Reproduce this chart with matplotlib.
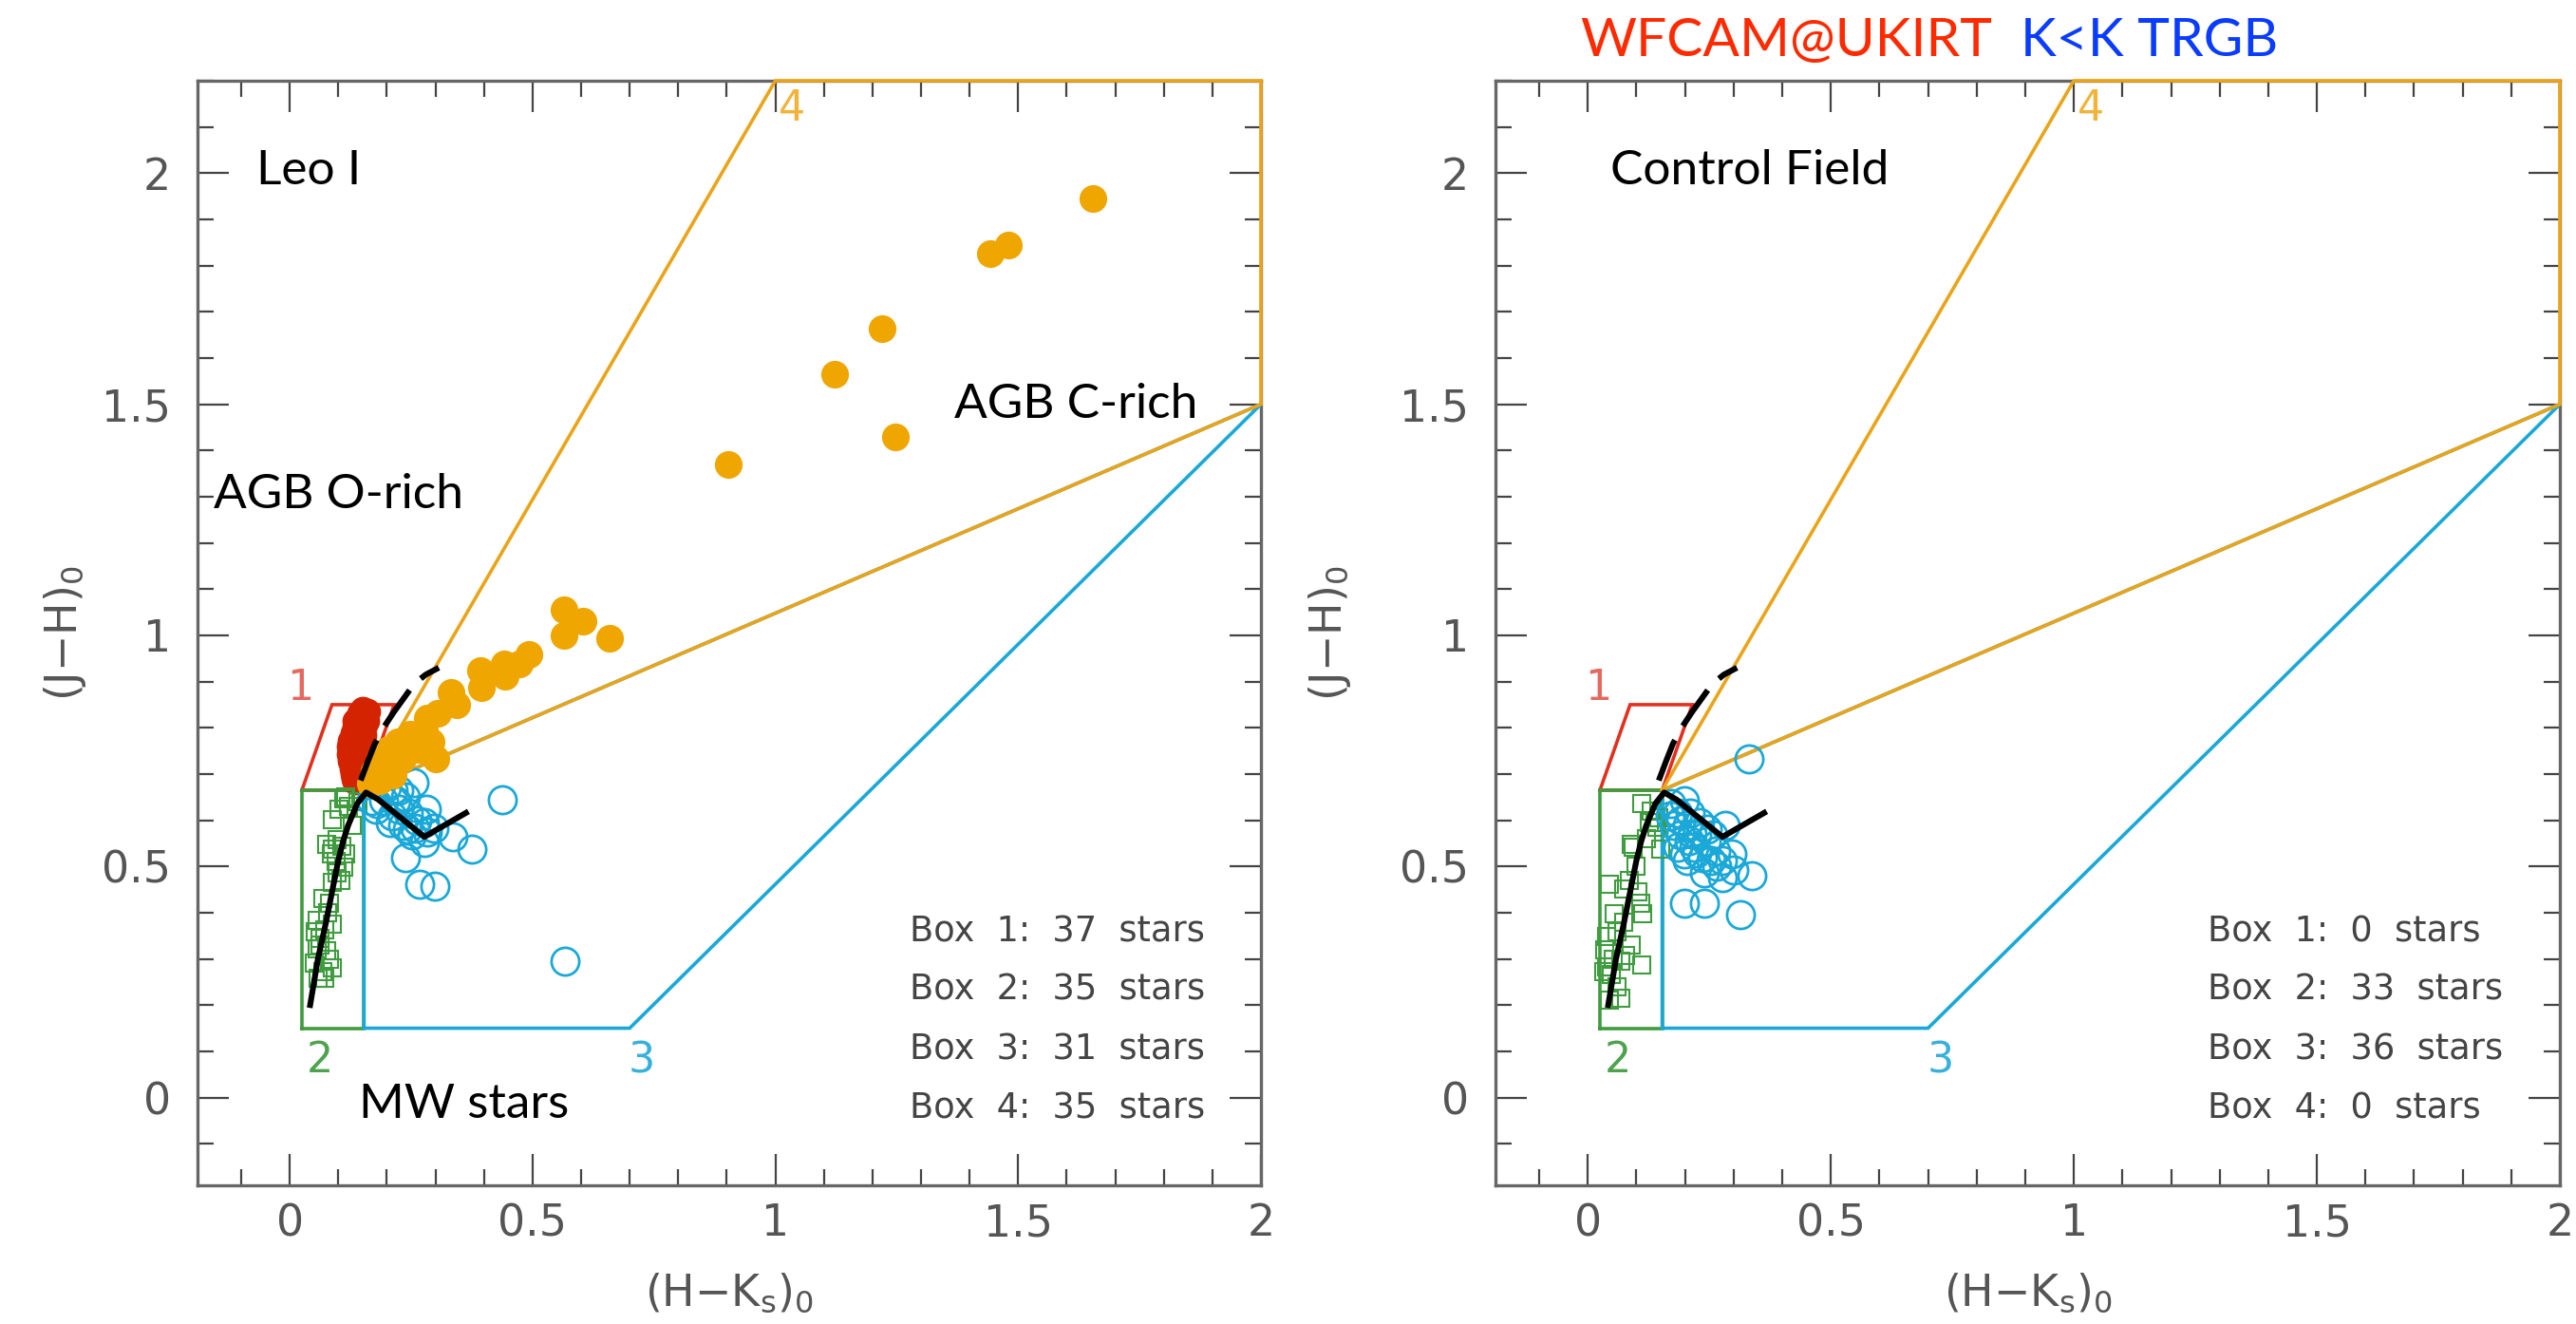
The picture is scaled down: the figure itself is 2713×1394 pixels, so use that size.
import matplotlib
matplotlib.use("Agg")
import matplotlib.pyplot as plt
from matplotlib.ticker import MultipleLocator

# ---------------- data ----------------
XLIM = (-0.19, 2.0)
YLIM = (-0.19, 2.2)

# selection boxes (H-K, J-H vertices)
box1_hk = [0.025, 0.087, 0.215, 0.153, 0.025]
box1_jh = [0.665, 0.850, 0.850, 0.665, 0.665]
box2_hk = [0.025, 0.153, 0.153, 0.025, 0.025]
box2_jh = [0.150, 0.150, 0.665, 0.665, 0.150]
box3_hk = [0.153, 0.153, 0.700, 2.000, 0.153]
box3_jh = [0.665, 0.150, 0.150, 1.500, 0.665]
box4_hk = [0.153, 1.000, 2.000, 2.000, 0.153]
box4_jh = [0.665, 2.200, 2.200, 1.500, 0.665]

# intrinsic sequences
dwarf_hk = [0.041, 0.058, 0.074, 0.088, 0.100, 0.110, 0.120, 0.139, 0.157, 0.182, 0.277, 0.368]
dwarf_jh = [0.194, 0.300, 0.376, 0.450, 0.513, 0.555, 0.588, 0.636, 0.660, 0.645, 0.564, 0.619]
giant_hk = [0.146, 0.160, 0.175, 0.193, 0.215, 0.239, 0.256, 0.280, 0.307]
giant_jh = [0.686, 0.725, 0.765, 0.800, 0.835, 0.870, 0.895, 0.915, 0.930]

# Leo I stars
leo_box1_hk = [0.145, 0.155, 0.160, 0.140, 0.150, 0.158, 0.135, 0.145, 0.155, 0.130,
               0.142, 0.152, 0.125, 0.135, 0.145, 0.122, 0.132, 0.142, 0.150, 0.123,
               0.133, 0.143, 0.125, 0.138, 0.148, 0.128, 0.138, 0.130, 0.140, 0.132,
               0.140, 0.135, 0.150, 0.135, 0.128, 0.140, 0.145]
leo_box1_jh = [0.832, 0.828, 0.835, 0.818, 0.822, 0.815, 0.803, 0.798, 0.806, 0.788,
               0.792, 0.785, 0.772, 0.768, 0.775, 0.760, 0.757, 0.763, 0.755, 0.742,
               0.738, 0.745, 0.728, 0.732, 0.725, 0.712, 0.708, 0.700, 0.697, 0.690,
               0.688, 0.683, 0.840, 0.815, 0.750, 0.720, 0.780]

leo_box2_hk = [0.111, 0.121, 0.102, 0.088, 0.128, 0.115, 0.098, 0.088, 0.108, 0.085,
               0.075, 0.115, 0.111, 0.098, 0.088, 0.069, 0.082, 0.056, 0.088, 0.053,
               0.072, 0.056, 0.075, 0.062, 0.088, 0.069, 0.059, 0.072, 0.081, 0.050,
               0.095, 0.105, 0.078, 0.063, 0.140]
leo_box2_jh = [0.647, 0.630, 0.623, 0.602, 0.588, 0.650, 0.558, 0.537, 0.544, 0.527,
               0.547, 0.527, 0.499, 0.486, 0.465, 0.431, 0.420, 0.383, 0.376, 0.359,
               0.362, 0.321, 0.317, 0.330, 0.280, 0.273, 0.259, 0.259, 0.300, 0.290,
               0.510, 0.470, 0.400, 0.345, 0.640]

leo_box3_hk = [0.256, 0.437, 0.281, 0.177, 0.212, 0.219, 0.245, 0.232, 0.258, 0.278,
               0.336, 0.376, 0.278, 0.239, 0.268, 0.298, 0.566, 0.193, 0.199, 0.225,
               0.251, 0.284, 0.180, 0.206, 0.297, 0.225, 0.239, 0.167, 0.210, 0.262,
               0.243]
leo_box3_jh = [0.681, 0.645, 0.623, 0.623, 0.664, 0.643, 0.616, 0.588, 0.582, 0.595,
               0.564, 0.537, 0.551, 0.520, 0.461, 0.458, 0.294, 0.643, 0.671, 0.623,
               0.568, 0.575, 0.636, 0.595, 0.582, 0.664, 0.650, 0.643, 0.610, 0.600,
               0.580]

leo_box4_hk = [1.654, 1.480, 1.443, 1.220, 1.123, 1.247, 0.903, 0.565, 0.604, 0.565,
               0.658, 0.493, 0.473, 0.444, 0.441, 0.393, 0.395, 0.333, 0.343, 0.304,
               0.284, 0.278, 0.248, 0.222, 0.291, 0.300, 0.265, 0.203, 0.186, 0.173,
               0.199, 0.232, 0.212, 0.186, 0.165]
leo_box4_jh = [1.945, 1.845, 1.825, 1.664, 1.566, 1.429, 1.370, 1.056, 1.031, 0.999,
               0.993, 0.959, 0.938, 0.911, 0.938, 0.923, 0.887, 0.877, 0.849, 0.832,
               0.822, 0.794, 0.787, 0.770, 0.770, 0.733, 0.753, 0.753, 0.733, 0.705,
               0.719, 0.733, 0.698, 0.685, 0.680]

# Control field stars
cf_box2_hk = [0.110, 0.146, 0.126, 0.143, 0.090, 0.149, 0.045, 0.074, 0.104, 0.055,
              0.113, 0.074, 0.038, 0.061, 0.078, 0.110, 0.038, 0.048, 0.068, 0.068,
              0.045, 0.094, 0.108, 0.035, 0.060, 0.085, 0.120, 0.100, 0.032, 0.052,
              0.090, 0.130, 0.139]
cf_box2_jh = [0.636, 0.606, 0.595, 0.585, 0.547, 0.537, 0.461, 0.451, 0.444, 0.397,
              0.397, 0.379, 0.348, 0.359, 0.307, 0.287, 0.283, 0.266, 0.294, 0.215,
              0.211, 0.541, 0.420, 0.320, 0.240, 0.470, 0.560, 0.500, 0.273, 0.300,
              0.330, 0.620, 0.595]

cf_box3_hk = [0.332, 0.198, 0.283, 0.296, 0.338, 0.198, 0.240, 0.314, 0.276, 0.240,
              0.204, 0.301, 0.185, 0.204, 0.224, 0.243, 0.191, 0.218, 0.263, 0.177,
              0.230, 0.254, 0.276, 0.198, 0.236, 0.185, 0.211, 0.172, 0.257, 0.215,
              0.190, 0.225, 0.265, 0.170, 0.245, 0.208]
cf_box3_jh = [0.733, 0.643, 0.588, 0.527, 0.479, 0.420, 0.420, 0.395, 0.475, 0.486,
              0.513, 0.492, 0.616, 0.588, 0.568, 0.554, 0.568, 0.541, 0.534, 0.588,
              0.595, 0.513, 0.513, 0.527, 0.520, 0.541, 0.616, 0.636, 0.568, 0.570,
              0.600, 0.530, 0.500, 0.610, 0.580, 0.555]

leo_counts = [37, 35, 31, 35]
cf_counts = [0, 33, 36, 0]

X_TICKS = [0, 0.5, 1, 1.5, 2]
X_TICKLABELS = ["0", "0.5", "1", "1.5", "2"]
Y_TICKS = [0, 0.5, 1, 1.5, 2]
Y_TICKLABELS = ["0", "0.5", "1", "1.5", "2"]

# ---------------- style ----------------
RED_LINE = "#e2301f"
RED_DOT = "#d42300"
GREEN = "#3f9c3f"
BLUE = "#1aa8d8"
ORANGE = "#efa600"
ORANGE_LINE = "#eaa41a"
AXCOL = "#666666"
TXTFONT = ["Lato", "DejaVu Sans"]

W, H = 2713, 1394
fig = plt.figure(figsize=(W / 100, H / 100), dpi=100)
axL = fig.add_axes([208 / W, 1 - 1248 / H, (1328 - 208) / W, (1248 - 85) / H])
axR = fig.add_axes([1575 / W, 1 - 1248 / H, (2696 - 1575) / W, (1248 - 85) / H])


def setup(ax, ylab_x):
    ax.set_xlim(*XLIM)
    ax.set_ylim(*YLIM)
    ax.set_xticks(X_TICKS)
    ax.set_xticklabels(X_TICKLABELS)
    ax.set_yticks(Y_TICKS)
    ax.set_yticklabels(Y_TICKLABELS)
    ax.xaxis.set_minor_locator(MultipleLocator(0.1))
    ax.yaxis.set_minor_locator(MultipleLocator(0.1))
    ax.tick_params(which="both", direction="in", top=True, right=True,
                   color="#444444", labelcolor="#555555", labelsize=33)
    ax.tick_params(which="major", length=24, width=1.6)
    ax.tick_params(which="minor", length=12, width=1.6)
    ax.tick_params(axis="x", pad=13)
    ax.tick_params(axis="y", pad=20)
    for s in ax.spines.values():
        s.set_color(AXCOL)
        s.set_linewidth(2.4)
    ax.set_xlabel(r"(H$-$K$_\mathregular{s}$)$_\mathregular{0}$", fontsize=33, color="#555555")
    ax.set_ylabel(r"(J$-$H)$_\mathregular{0}$", fontsize=33, color="#555555")
    ax.xaxis.set_label_coords(0.5, -0.078)
    ax.yaxis.set_label_coords(ylab_x, 0.5)


def boxes(ax):
    kw = dict(lw=2.6, clip_on=False, zorder=3, solid_joinstyle="miter")
    ax.plot(box1_hk, box1_jh, color=RED_LINE, **kw)
    ax.plot(box2_hk, box2_jh, color=GREEN, **kw)
    ax.plot(box3_hk, box3_jh, color=BLUE, **kw)
    ax.plot(box4_hk, box4_jh, color=ORANGE_LINE, **kw)
    lab = dict(fontsize=32, ha="center", va="center", zorder=6)
    ax.text(0.022, 0.885, "1", color="#e46a60", **lab)
    ax.text(0.062, 0.080, "2", color="#4ea24e", **lab)
    ax.text(0.725, 0.080, "3", color="#38b0dc", **lab)
    ax.text(1.034, 2.140, "4", color="#f2b33a", **lab)


def seqs(ax):
    ax.plot(dwarf_hk, dwarf_jh, color="black", lw=4.4, zorder=8, solid_capstyle="butt")
    ax.plot(giant_hk, giant_jh, color="black", lw=4.4, zorder=8,
            dashes=(7.5, 2.8), dash_capstyle="butt")


def counts(ax, vals):
    ys = [0.338, 0.211, 0.082, -0.045]
    for i, (v, y) in enumerate(zip(vals, ys)):
        ax.text(1.276, y, f"Box  {i + 1}:  {v}  stars", fontsize=26.5, color="#444444",
                ha="left", va="baseline", zorder=6)


setup(axL, -0.103)
setup(axR, -0.134)

# ---- left panel: Leo I ----
boxes(axL)
axL.plot(leo_box1_hk, leo_box1_jh, "o", ms=20, color=RED_DOT, mec="none", zorder=4)
axL.plot(leo_box2_hk, leo_box2_jh, "s", ms=13, mfc="none", mec=GREEN, mew=1.5, zorder=4)
axL.plot(leo_box3_hk, leo_box3_jh, "o", ms=21, mfc="none", mec=BLUE, mew=2.0, zorder=4)
axL.plot(leo_box4_hk, leo_box4_jh, "o", ms=21, color=ORANGE, mec="none", zorder=5)
seqs(axL)
counts(axL, leo_counts)
tk = dict(fontsize=37, color="black", family=TXTFONT, va="baseline", zorder=7)
axL.text(-0.069, 1.977, "Leo I", ha="left", **tk)
axL.text(-0.156, 1.275, "AGB O-rich", ha="left", **tk)
axL.text(1.369, 1.470, "AGB C-rich", ha="left", **tk)
axL.text(0.143, -0.045, "MW stars", ha="left", **tk)

# ---- right panel: control field ----
boxes(axR)
axR.plot(cf_box2_hk, cf_box2_jh, "s", ms=13, mfc="none", mec=GREEN, mew=1.5, zorder=4)
axR.plot(cf_box3_hk, cf_box3_jh, "o", ms=21, mfc="none", mec=BLUE, mew=2.0, zorder=4)
seqs(axR)
counts(axR, cf_counts)
axR.text(0.046, 1.977, "Control Field", ha="left", **tk)

# ---- header ----
fig.text(1664 / W, 1 - 59 / H, "WFCAM@UKIRT", color="#ff2a00", fontsize=41,
         family=TXTFONT, ha="left", va="baseline")
fig.text(2399 / W, 1 - 59 / H, "K<K TRGB", color="#0a3cff", fontsize=41,
         family=TXTFONT, ha="right", va="baseline")

fig.savefig("out.png", dpi=100)
